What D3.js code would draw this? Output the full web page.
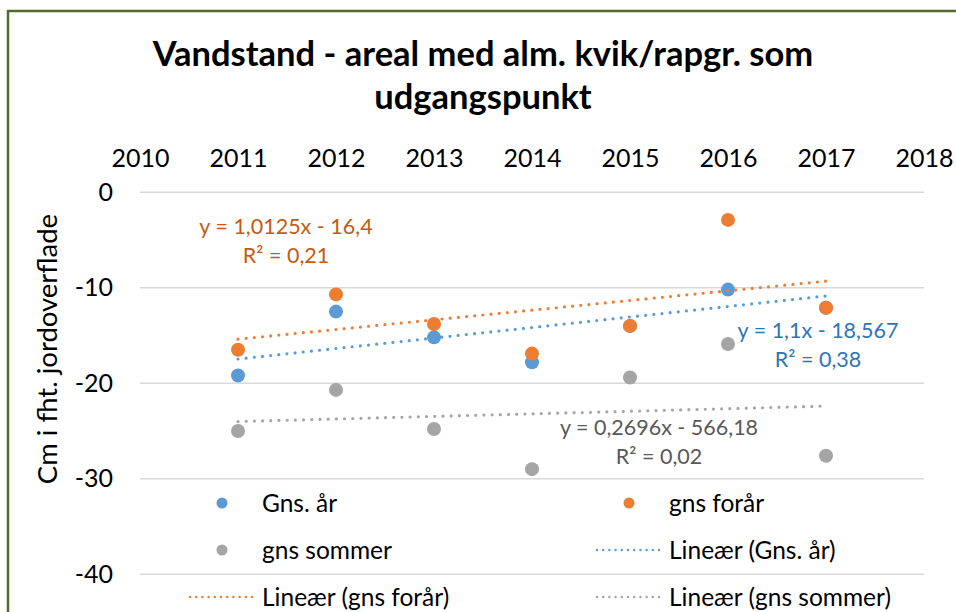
<!DOCTYPE html>
<html>
<head>
<meta charset="utf-8">
<script src="https://cdn.jsdelivr.net/npm/d3@7"></script>
<style>
  body { margin: 0; background: #fff; }
  svg { display: block; font-family: Lato, "Open Sans", sans-serif; }
</style>
</head>
<body>
<script>
// data
var years = [2011, 2012, 2013, 2014, 2015, 2016, 2017];
var gnsAar = [-19.2, -12.5, -15.2, -17.8, -14.0, -10.2, -12.1];
var gnsForaar = [-16.5, -10.7, -13.8, -16.9, -14.0, -2.9, -12.1];
var gnsSommer = [-25.0, -20.7, -24.8, -29.0, -19.4, -15.9, -27.6];

var seriesNames = ["Gns. år", "gns forår", "gns sommer"];
var seriesColors = ["#5b9bd5", "#ed7d31", "#a5a5a5"];

// Excel trendlines (blue/orange use index 1..7, gray uses the year itself)
var trendSlopes = [1.1, 1.0125, 0.2696];
var trendIntercepts = [-18.567, -16.4, -566.18];
var trendUsesYear = [false, false, true];
var trendEquations = ["y = 1,1x - 18,567", "y = 1,0125x - 16,4", "y = 0,2696x - 566,18"];
var trendR2 = ["R² = 0,38", "R² = 0,21", "R² = 0,02"];
var labelColors = ["#2e75b6", "#c55a11", "#595959"];

var xTicks = [2010, 2011, 2012, 2013, 2014, 2015, 2016, 2017, 2018];
var yTicks = [0, -10, -20, -30, -40];

var svg_width = 956;
var svg_height = 612;

var svg = d3.select("body").append("svg")
  .attr("width", svg_width)
  .attr("height", svg_height);

svg.append("rect")
  .attr("width", svg_width).attr("height", svg_height)
  .attr("fill", "#fff");

// chart frame (only top and left are visible, the rest is cropped)
svg.append("rect")
  .attr("x", 8).attr("y", 11)
  .attr("width", 1000).attr("height", 700)
  .attr("fill", "none")
  .attr("stroke", "#4f6b2d")
  .attr("stroke-width", 2.5);

var xScale = d3.scaleLinear().domain([2010, 2018]).range([140, 924]);
var yScale = d3.scaleLinear().domain([-40, 0]).range([574.2, 192.2]);

// title
var title = svg.append("text")
  .attr("text-anchor", "middle")
  .attr("font-weight", "bold")
  .attr("font-size", 34.5)
  .attr("fill", "#000");
title.append("tspan").attr("x", 483).attr("y", 66).text("Vandstand - areal med alm. kvik/rapgr. som");
title.append("tspan").attr("x", 483).attr("y", 109).text("udgangspunkt");

// gridlines
svg.append("g").selectAll("line")
  .data(yTicks)
  .enter().append("line")
  .attr("x1", xScale(2010)).attr("x2", xScale(2018))
  .attr("y1", d => yScale(d)).attr("y2", d => yScale(d))
  .attr("stroke", "#d9d9d9")
  .attr("stroke-width", 1.5);

// x axis sits on top of the plot
var xaxis = d3.axisTop(xScale).tickValues(xTicks).tickFormat(d => String(d)).tickSize(0).tickPadding(25);
var gx = svg.append("g")
  .attr("transform", "translate(0," + yScale(0) + ")")
  .call(xaxis);

var yaxis = d3.axisLeft(yScale).tickValues(yTicks).tickFormat(d => String(d)).tickSize(0).tickPadding(27);
var gy = svg.append("g")
  .attr("transform", "translate(" + xScale(2010) + ",0)")
  .call(yaxis);

[gx, gy].forEach(function(g) {
  g.select(".domain").remove();
  g.selectAll("text")
    .attr("font-family", "Lato, 'Open Sans', sans-serif")
    .attr("font-size", 25)
    .attr("fill", "#000");
});

// y axis title
svg.append("text")
  .attr("text-anchor", "middle")
  .attr("font-size", 27.5)
  .attr("fill", "#000")
  .attr("transform", "translate(57," + 349 + ") rotate(-90)")
  .text("Cm i fht. jordoverflade");

// markers
var allSeries = [gnsAar, gnsForaar, gnsSommer];
allSeries.forEach(function(vals, s) {
  svg.append("g").selectAll("circle")
    .data(vals)
    .enter().append("circle")
    .attr("cx", (d, i) => xScale(years[i]))
    .attr("cy", d => yScale(d))
    .attr("r", 7)
    .attr("fill", seriesColors[s]);
});

// trendlines drawn over markers
var trendY = function(s, year) {
  var x = trendUsesYear[s] ? year : year - 2010;
  return trendSlopes[s] * x + trendIntercepts[s];
};
var firstYear = d3.min(years), lastYear = d3.max(years);
[2, 0, 1].forEach(function(s) {
  svg.append("line")
    .attr("x1", xScale(firstYear)).attr("y1", yScale(trendY(s, firstYear)))
    .attr("x2", xScale(lastYear)).attr("y2", yScale(trendY(s, lastYear)))
    .attr("stroke", seriesColors[s])
    .attr("stroke-width", 3.2)
    .attr("stroke-linecap", "round")
    .attr("stroke-dasharray", "0 8.2");
});

// trendline labels
var labelPos = [[818, 338], [286, 234], [659, 435]];
labelPos.forEach(function(p, s) {
  var t = svg.append("text")
    .attr("text-anchor", "middle")
    .attr("font-size", 21.5)
    .attr("fill", labelColors[s]);
  t.append("tspan").attr("x", p[0]).attr("y", p[1]).text(trendEquations[s]);
  t.append("tspan").attr("x", p[0]).attr("y", p[1] + 29).text(trendR2[s]);
});

// legend: 2 columns, 3 rows
var legendItems = [
  {name: seriesNames[0], color: seriesColors[0], kind: "dot"},
  {name: seriesNames[1], color: seriesColors[1], kind: "dot"},
  {name: seriesNames[2], color: seriesColors[2], kind: "dot"},
  {name: "Lineær (" + seriesNames[0] + ")", color: seriesColors[0], kind: "line"},
  {name: "Lineær (" + seriesNames[1] + ")", color: seriesColors[1], kind: "line"},
  {name: "Lineær (" + seriesNames[2] + ")", color: seriesColors[2], kind: "line"}
];
var legendCols = [222, 629];
var legendRows = [503, 550, 597];

var legend = svg.append("g").selectAll("g")
  .data(legendItems)
  .enter().append("g")
  .attr("transform", (d, i) => "translate(" + legendCols[i % 2] + "," + legendRows[Math.floor(i / 2)] + ")");

legend.filter(d => d.kind == "dot").append("circle")
  .attr("r", 5.5)
  .attr("fill", d => d.color);

legend.filter(d => d.kind == "line").append("line")
  .attr("x1", -32).attr("x2", 30)
  .attr("stroke", d => d.color)
  .attr("stroke-width", 2.5)
  .attr("stroke-linecap", "round")
  .attr("stroke-dasharray", "0 6.2");

legend.append("text")
  .attr("x", 40)
  .attr("dy", "0.35em")
  .attr("font-size", 24.5)
  .attr("fill", "#000")
  .text(d => d.name);
</script>
</body>
</html>
